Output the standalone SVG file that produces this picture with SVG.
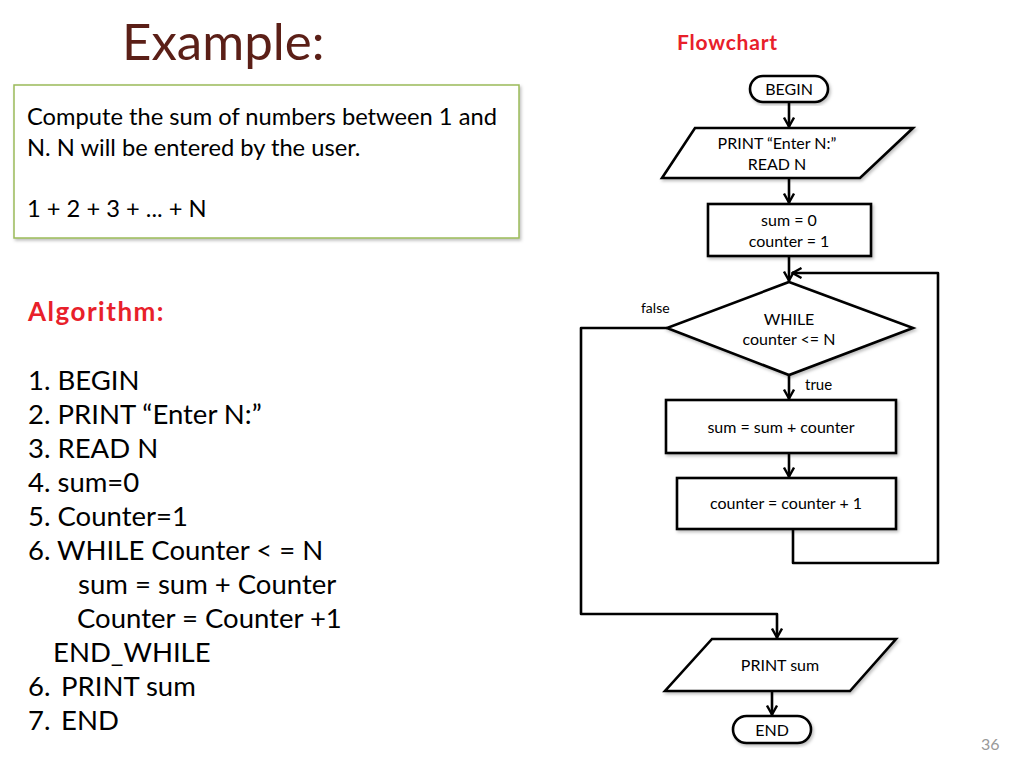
<svg xmlns="http://www.w3.org/2000/svg" width="1024" height="768" viewBox="0 0 1024 768">
<defs>
<marker id="arr" viewBox="0 0 12 12" refX="11" refY="6" markerWidth="12" markerHeight="12" markerUnits="userSpaceOnUse" orient="auto">
<path d="M1.5,1 L10.5,6 L1.5,11" fill="none" stroke="#000" stroke-width="2.4"/>
</marker>
<filter id="sh" x="-5%" y="-5%" width="115%" height="120%">
<feDropShadow dx="1.5" dy="2" stdDeviation="1.5" flood-color="#000" flood-opacity="0.25"/>
</filter>
<style>
.f{font-family:Lato,"Open Sans","Liberation Sans",sans-serif}
.n{fill:#fff;stroke:#000;stroke-width:2.6;filter:url(#sh)}
.c{fill:none;stroke:#000;stroke-width:2.6;stroke-linejoin:round}
.t{font-family:Lato,"Liberation Sans",sans-serif;font-size:16px;fill:#000;text-anchor:middle}
.alg{font-family:Lato,"Liberation Sans",sans-serif;font-size:27.5px;fill:#000}
</style>
</defs>
<rect width="1024" height="768" fill="#fff"/>
<text x="122" y="60" class="f" font-size="51" fill="#5b1f17">Example:</text>
<text x="677" y="50" class="f" font-size="21" font-weight="bold" fill="#e8202a" letter-spacing="0.8">Flowchart</text>
<g id="problem">
<rect x="14" y="85" width="505" height="153" fill="#fff" stroke="#9bbb59" stroke-width="1.5" filter="url(#sh)"/>
<text class="f" font-size="23.7" fill="#000"><tspan x="27" y="125">Compute the sum of numbers between 1 and</tspan><tspan x="27" y="156">N. N will be entered by the user.</tspan><tspan x="27" y="217">1 + 2 + 3 + ... + N</tspan></text>
</g>
<text x="28" y="321" class="f" font-size="26" font-weight="bold" fill="#e8202a" letter-spacing="1.5">Algorithm:</text>
<g id="algorithm">
<text x="28" y="390" class="alg">1. BEGIN</text>
<text x="28" y="424" class="alg">2. PRINT “Enter N:”</text>
<text x="28" y="458" class="alg">3. READ N</text>
<text x="28" y="492" class="alg">4. sum=0</text>
<text x="28" y="526" class="alg">5. Counter=1</text>
<text x="28" y="560" class="alg">6. WHILE Counter &lt; = N</text>
<text x="78" y="594" class="alg">sum = sum + Counter</text>
<text x="77" y="628" class="alg">Counter = Counter +1</text>
<text x="53" y="662" class="alg">END_WHILE</text>
<text y="696" class="alg"><tspan x="28">6.</tspan><tspan x="61">PRINT sum</tspan></text>
<text y="730" class="alg"><tspan x="28">7.</tspan><tspan x="61">END</tspan></text>
</g>
<g id="connectors">
<line x1="789" y1="102" x2="789" y2="127" class="c" marker-end="url(#arr)"/>
<line x1="789" y1="178" x2="789" y2="203" class="c" marker-end="url(#arr)"/>
<line x1="789" y1="256" x2="789" y2="281" class="c" marker-end="url(#arr)"/>
<line x1="789" y1="375" x2="789" y2="399" class="c" marker-end="url(#arr)"/>
<line x1="789" y1="453" x2="789" y2="477" class="c" marker-end="url(#arr)"/>
<polyline points="793,529 793,563 938,563 938,273 792,273" class="c" marker-end="url(#arr)"/>
<polyline points="667,328 581,328 581,614 777,614 777,638" class="c" marker-end="url(#arr)"/>
<line x1="772" y1="691" x2="772" y2="715" class="c" marker-end="url(#arr)"/>
<text x="641" y="313" class="f" font-size="14">false</text>
<text x="805" y="390" class="f" font-size="15">true</text>
</g>
<g id="begin">
<rect x="750" y="76" width="78" height="26" rx="13" class="n"/>
<text x="789" y="95" class="t" font-size="16.5">BEGIN</text>
</g>
<g id="input">
<polygon points="695,128 913,128 860,178 662,178" class="n"/>
<text x="777" y="149" class="t">PRINT “Enter N:”</text>
<text x="777" y="170" class="t">READ N</text>
</g>
<g id="init">
<rect x="708" y="204" width="163" height="52" class="n"/>
<text x="789" y="226" class="t">sum = 0</text>
<text x="789" y="247" class="t">counter = 1</text>
</g>
<g id="while">
<polygon points="789,282 913,328 789,375 667,328" class="n"/>
<text x="789" y="325" class="t" font-size="16.5">WHILE</text>
<text x="789" y="345" class="t">counter &lt;= N</text>
</g>
<g id="add">
<rect x="666" y="400" width="230" height="53" class="n"/>
<text x="781" y="433" class="t">sum = sum + counter</text>
</g>
<g id="inc">
<rect x="677" y="478" width="219" height="51" class="n"/>
<text x="786" y="509" class="t">counter = counter + 1</text>
</g>
<g id="output">
<polygon points="712,639 896,639 850,691 665,691" class="n"/>
<text x="780" y="671" class="t">PRINT sum</text>
</g>
<g id="end">
<rect x="733" y="716" width="78" height="27" rx="13.5" class="n"/>
<text x="772" y="736" class="t" font-size="16.5">END</text>
</g>
<text x="981" y="750" class="f" font-size="16" fill="#999">36</text>
</svg>
